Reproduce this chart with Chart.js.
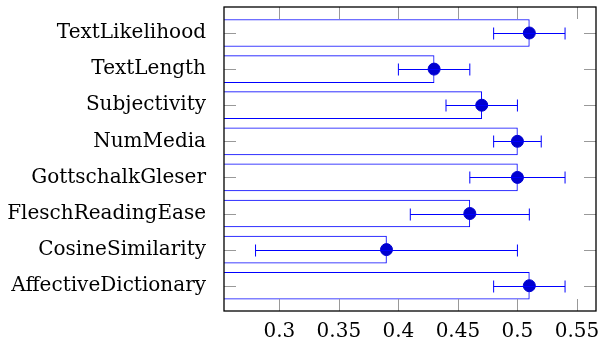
<!DOCTYPE html>
<html>
<head>
<meta charset="utf-8">
<script src="https://cdn.jsdelivr.net/npm/chart.js@4.4.0/dist/chart.umd.min.js"></script>
<style>
  html, body { margin: 0; padding: 0; background: #fff; }
  #wrap { width: 606px; height: 339px; }
</style>
</head>
<body>
<div id="wrap"><canvas id="chart" width="606" height="339"></canvas></div>
<script>
const features = ['TextLikelihood', 'TextLength', 'Subjectivity', 'NumMedia',
    'GottschalkGleser', 'FleschReadingEase', 'CosineSimilarity', 'AffectiveDictionary'];
const means = [0.51, 0.43, 0.47, 0.50, 0.50, 0.46, 0.39, 0.51];
const errors = [0.03, 0.03, 0.03, 0.02, 0.04, 0.05, 0.11, 0.03];
const xTicks = [0.3, 0.35, 0.4, 0.45, 0.5, 0.55];

const serif = '"DejaVu Serif", "Liberation Serif", serif';

// error bars, inward tick marks and frame
const extras = {
    id: 'extras',
    afterDatasetsDraw(chart) {
        const ctx = chart.ctx;
        const x = chart.scales.x, y = chart.scales.y;
        const a = chart.chartArea;
        ctx.save();
        ctx.beginPath();
        ctx.rect(a.left, a.top, a.right - a.left, a.bottom - a.top);
        ctx.clip();
        ctx.strokeStyle = '#0000ff';
        ctx.lineWidth = 1;
        means.forEach((m, i) => {
            const py = Math.round(y.getPixelForValue(i)) + 0.5;
            const x1 = x.getPixelForValue(m - errors[i]);
            const x2 = x.getPixelForValue(m + errors[i]);
            ctx.beginPath();
            ctx.moveTo(x1, py); ctx.lineTo(x2, py);
            ctx.moveTo(x1, py - 6); ctx.lineTo(x1, py + 6);
            ctx.moveTo(x2, py - 6); ctx.lineTo(x2, py + 6);
            ctx.stroke();
        });
        ctx.restore();
    },
    afterDraw(chart) {
        const ctx = chart.ctx;
        const x = chart.scales.x, y = chart.scales.y;
        const a = chart.chartArea;
        ctx.save();
        ctx.strokeStyle = '#999';
        ctx.lineWidth = 1;
        ctx.beginPath();
        xTicks.forEach(v => {
            const px = Math.round(x.getPixelForValue(v)) + 0.5;
            ctx.moveTo(px, a.top); ctx.lineTo(px, a.top + 12);
            ctx.moveTo(px, a.bottom); ctx.lineTo(px, a.bottom - 12);
        });
        features.forEach((f, i) => {
            const py = Math.round(y.getPixelForValue(i)) + 0.5;
            ctx.moveTo(a.left, py); ctx.lineTo(a.left + 12, py);
            ctx.moveTo(a.right, py); ctx.lineTo(a.right - 12, py);
        });
        ctx.stroke();
        ctx.strokeStyle = '#000';
        ctx.lineWidth = 1.3;
        ctx.strokeRect(a.left, a.top, a.right - a.left, a.bottom - a.top);
        ctx.restore();
    }
};

new Chart(document.getElementById('chart'), {
    type: 'bar',
    data: {
        datasets: [{
            type: 'bar',
            data: means.map((m, i) => ({ x: m, y: i })),
            backgroundColor: '#fff',
            borderColor: '#0000ff',
            borderWidth: 1,
            borderSkipped: false,
            barThickness: 27,
            order: 2
        }, {
            type: 'scatter',
            data: means.map((m, i) => ({ x: m, y: i })),
            backgroundColor: '#0000d0',
            borderColor: '#0000d0',
            pointRadius: 6,
            order: 1
        }]
    },
    options: {
        indexAxis: 'y',
        responsive: false,
        animation: false,
        layout: { padding: { top: 7, right: 10, left: 0, bottom: 0 } },
        plugins: { legend: { display: false }, tooltip: { enabled: false } },
        scales: {
            x: {
                type: 'linear',
                min: 0.2535,
                max: 0.566,
                offset: false,
                grid: { display: false },
                border: { display: false },
                afterBuildTicks: s => { s.ticks = xTicks.map(v => ({ value: v })); },
                afterFit: s => { s.height = 28; s.paddingLeft = 0; s.paddingRight = 0; },
                ticks: {
                    color: '#000',
                    padding: 1,
                    font: { family: serif, size: 20 },
                    callback: v => String(v)
                }
            },
            y: {
                type: 'linear',
                reverse: true,
                min: -0.72,
                max: 7.7,
                offset: false,
                grid: { display: false, offset: false },
                border: { display: false },
                afterBuildTicks: s => { s.ticks = features.map((f, i) => ({ value: i })); },
                afterFit: s => { s.width = 224; s.paddingTop = 0; s.paddingBottom = 0; },
                ticks: {
                    color: '#000',
                    padding: 10,
                    font: { family: serif, size: 20 },
                    callback: v => features[v]
                }
            }
        }
    },
    plugins: [extras]
});
</script>
</body>
</html>
